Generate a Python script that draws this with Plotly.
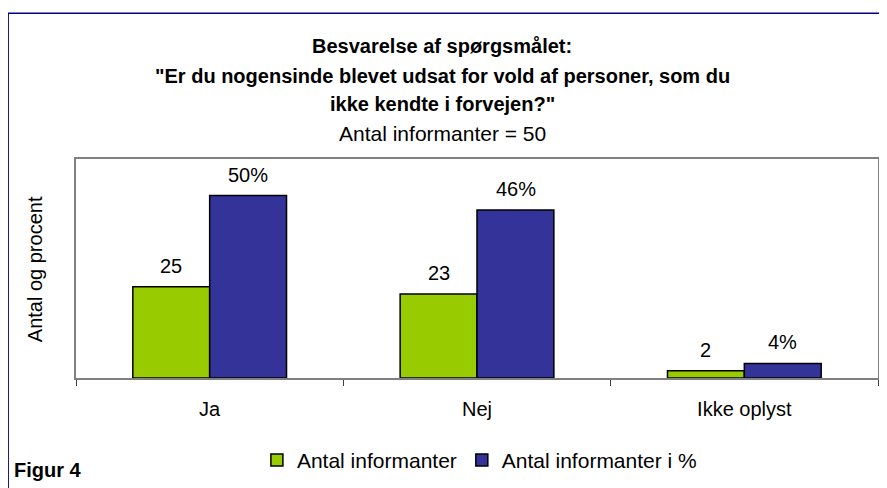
import plotly.graph_objects as go

categories = ["Ja", "Nej", "Ikke oplyst"]
antal = [25, 23, 2]
procent = [50, 46, 4]

series_names = ["Antal informanter", "Antal informanter i %"]
title_lines = ["Besvarelse af spørgsmålet:",
               "\"Er du nogensinde blevet udsat for vold af personer, som du",
               "ikke kendte i forvejen?\""]
subtitle = "Antal informanter = 50"

GREEN = "#99CC00"
BLUE = "#333399"
FONT = "Liberation Sans, Arial, sans-serif"

fig = go.Figure()
fig.add_trace(go.Bar(x=categories, y=antal, name=series_names[0],
                     marker=dict(color=GREEN, line=dict(color="black", width=1.5))))
fig.add_trace(go.Bar(x=categories, y=procent, name=series_names[1],
                     marker=dict(color=BLUE, line=dict(color="black", width=1.5))))

# data labels above each bar
for cat, a, p in zip(categories, antal, procent):
    fig.add_annotation(x=cat, y=a, text=str(a), showarrow=False, xshift=-38.5,
                       yshift=21, yanchor="middle", font=dict(size=20, color="black"))
    fig.add_annotation(x=cat, y=p, text=str(p) + "%", showarrow=False, xshift=38.5,
                       yshift=21, yanchor="middle", font=dict(size=20, color="black"))

# title block
title_y = [1.5158, 1.380, 1.249]
for txt, yy in zip(title_lines, title_y):
    fig.add_annotation(x=0.4565, y=yy, xref="paper", yref="paper", text="<b>" + txt + "</b>",
                       showarrow=False, yanchor="middle", font=dict(size=20, color="black"))
fig.add_annotation(x=0.4565, y=1.117, xref="paper", yref="paper", text=subtitle,
                   showarrow=False, yanchor="middle", font=dict(size=21, color="black"))

# y axis title
fig.add_annotation(x=-0.067, y=0.498, xref="paper", yref="paper", text="Antal og procent",
                   textangle=-90, showarrow=False, font=dict(size=20, color="black"))

fig.add_annotation(x=-0.08, y=-0.418, xref="paper", yref="paper", text="<b>Figur 4</b>",
                   showarrow=False, xanchor="left", yanchor="middle",
                   font=dict(size=20, color="black"))

# outer frame
fig.add_shape(type="rect", xref="paper", yref="paper", x0=-0.0846, x1=1.05, y0=-0.7, y1=1.665,
              line=dict(color="#000080", width=1.5), layer="below")

fig.update_layout(
    width=879, height=480,
    margin=dict(l=68, r=7, t=151, b=108),
    barmode="group", bargap=0.425, bargroupgap=0,
    plot_bgcolor="white", paper_bgcolor="white",
    font=dict(family=FONT, size=20, color="black"),
    showlegend=True,
    legend=dict(orientation="h", x=0.503, xanchor="center", y=-0.3756, yanchor="middle",
                font=dict(size=21), itemwidth=30, tracegroupgap=0),
    xaxis=dict(showline=True, linecolor="#808080", linewidth=2, mirror=True,
               ticks="outside", tickson="boundaries", ticklen=6, tickcolor="#404040",
               ticklabelstandoff=12, showgrid=False, tickfont=dict(size=20)),
    yaxis=dict(range=[0, 60], showline=True, linecolor="#808080", linewidth=2, mirror=True,
               showticklabels=False, showgrid=False, zeroline=False, ticks=""),
)

fig.write_html("out.html")
